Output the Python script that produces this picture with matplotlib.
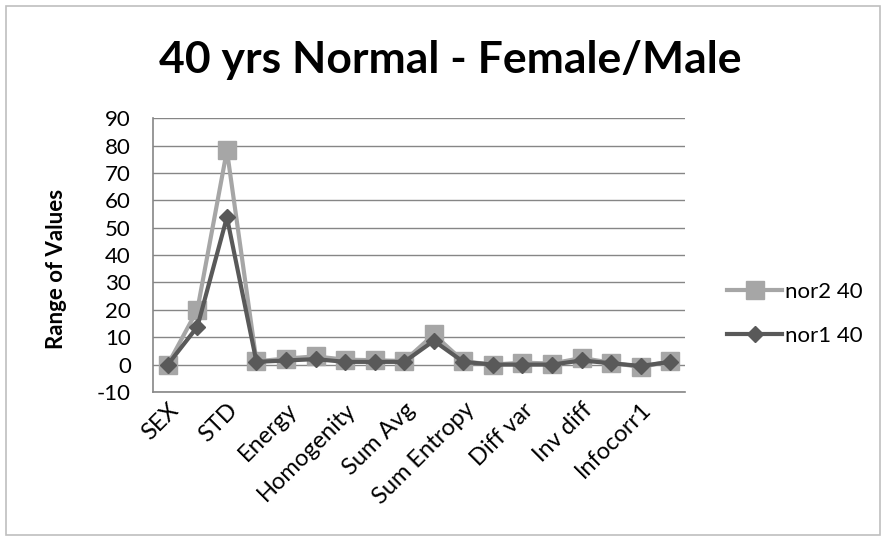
import matplotlib.pyplot as plt
from matplotlib.patches import Rectangle

# Данные графика
tick_labels = ['SEX', 'STD', 'Energy', 'Homogenity', 'Sum Avg', 'Sum Entropy',
               'Diff var', 'Inv diff', 'Infocorr1']
nor2_40 = [0, 20, 78.2, 1.2, 2.2, 3, 1.8, 1.6, 1.3, 11, 1.2, 0, 0.7, 0.4, 2.4, 0.7, -0.9, 1.2]
nor1_40 = [0, 13.8, 53.8, 1, 1.5, 2, 1, 1, 1, 8.7, 1, 0, 0, 0, 1.5, 0.5, -0.5, 1]

plt.rcParams['font.family'] = ['Lato', 'DejaVu Sans']
plt.rcParams['axes.unicode_minus'] = False

fig = plt.figure(figsize=(8.86, 5.38), dpi=100)
fig.patches.append(Rectangle((0.007, 0.006), 0.986, 0.983, transform=fig.transFigure,
                             fill=False, edgecolor='#bfbfbf', linewidth=1.2))

ax = fig.add_axes([0.1727, 0.2714, 0.6005, 0.509])
x = list(range(len(nor2_40)))

ax.plot(x, nor1_40, color='#595959', linewidth=3, marker='D', markersize=8,
        label='nor1 40', zorder=3)
ax.plot(x, nor2_40, color='#a6a6a6', linewidth=3, marker='s', markersize=13,
        label='nor2 40', zorder=2)

ax.set_xlim(-0.5, len(x) - 0.5)
ax.set_ylim(-10, 90)
ax.set_yticks(range(-10, 91, 10))
ax.set_xticks(x[::2])
ax.set_xticklabels(tick_labels, rotation=45, ha='right', rotation_mode='anchor',
                   fontsize=17)
ax.tick_params(axis='y', labelsize=16, length=0, pad=16)
ax.tick_params(axis='x', length=0, pad=5)

ax.grid(axis='y', color='#868686', linewidth=1)
ax.set_axisbelow(True)
for side in ['top', 'right']:
    ax.spines[side].set_visible(False)
ax.spines['left'].set_color('#868686')
ax.spines['bottom'].set_color('#868686')
ax.spines['left'].set_linewidth(1.2)
ax.spines['bottom'].set_linewidth(1.2)

fig.text(0.064, 0.5, 'Range of Values', fontsize=16, fontweight='bold',
         rotation=90, ha='center', va='center')
fig.text(0.508, 0.888, '40 yrs Normal - Female/Male', fontsize=32, fontweight='bold',
         ha='center', va='center')

handles, labels = ax.get_legend_handles_labels()
ax.legend(handles[::-1], labels[::-1], loc='center left', bbox_to_anchor=(1.062, 0.285),
          borderaxespad=0, frameon=False, fontsize=16, handlelength=2.5,
          handletextpad=0.1, labelspacing=1.1)

plt.savefig('out.png', dpi=100)
